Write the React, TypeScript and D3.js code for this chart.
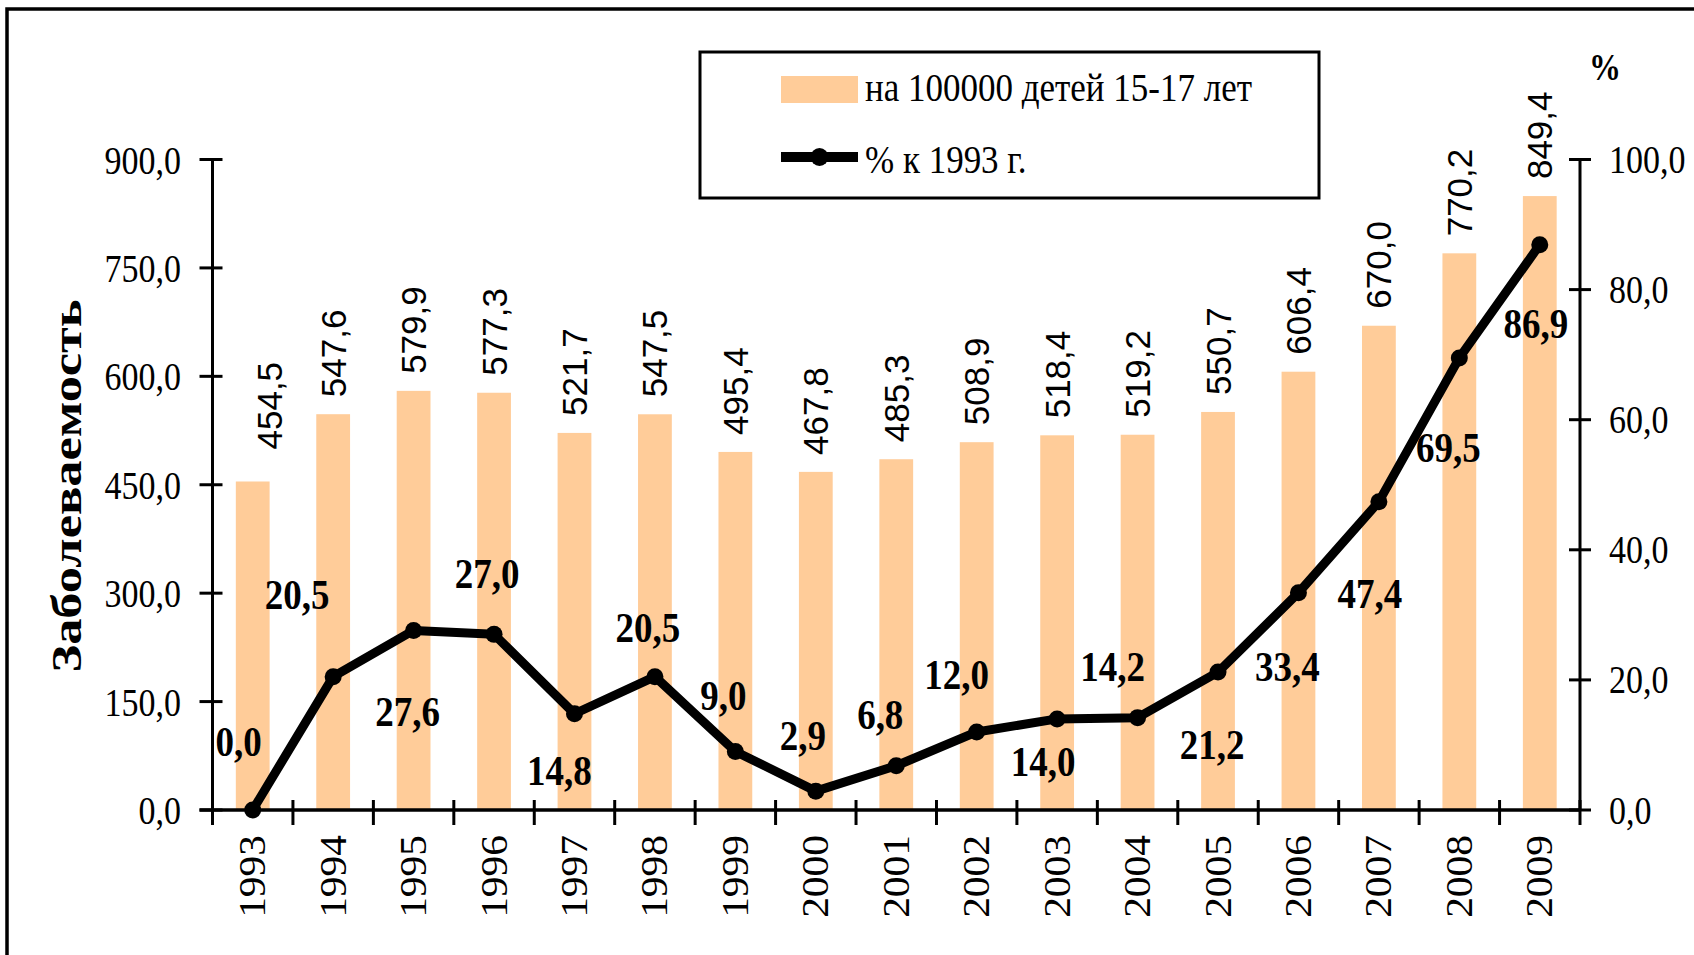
import * as d3 from "d3";

const years = [
  "1993", "1994", "1995", "1996", "1997", "1998", "1999", "2000", "2001",
  "2002", "2003", "2004", "2005", "2006", "2007", "2008", "2009",
];
const ratePer100k = [
  454.5, 547.6, 579.9, 577.3, 521.7, 547.5, 495.4, 467.8, 485.3, 508.9, 518.4,
  519.2, 550.7, 606.4, 670.0, 770.2, 849.4,
];
const pctTo1993 = [
  0.0, 20.5, 27.6, 27.0, 14.8, 20.5, 9.0, 2.9, 6.8, 12.0, 14.0, 14.2, 21.2,
  33.4, 47.4, 69.5, 86.9,
];
const leftTicks = [0, 150, 300, 450, 600, 750, 900];
const rightTicks = [0, 20, 40, 60, 80, 100];
const barLegend = "на 100000 детей 15-17 лет";
const lineLegend = "% к 1993 г.";
const yTitle = "Заболеваемость";
const rightUnit = "%";

// where each % label sits relative to its point (as placed by hand in the original)
const pctLabelShift: [number, number][] = [
  [-14, -69], [-36, -82], [-6, 81], [-7, -61], [-15, 57], [-7, -49],
  [-12, -56], [-13, -56], [-16, -51], [-20, -57], [-14, 43], [-25, -51],
  [-6, 72], [-11, 74], [-9, 92], [-11, 90], [-4, 79],
];

const SERIF = "'Liberation Serif', 'Times New Roman', serif";
const SANS = "'Liberation Sans', Arial, sans-serif";
const BAR = "#FFCC99";
const SY = 1.17; // the original picture is a little stretched vertically

const fmt = (v: number) => d3.format(".1f")(v).replace(".", ",");

export default function App() {
  const width = 1694;
  const height = 955;
  const left = 212.5;
  const right = 1580;
  const top = 159.5;
  const bottom = 810;

  const x = d3
    .scaleBand<string>()
    .domain(years)
    .range([left, right])
    .paddingInner(0.58)
    .paddingOuter(0.29);
  const yL = d3.scaleLinear().domain([0, 900]).range([bottom, top]);
  const yR = d3.scaleLinear().domain([0, 100]).range([bottom, top]);
  const cx = (i: number) => (x(years[i]) ?? 0) + x.bandwidth() / 2;
  const step = x.step();

  const lineGen = d3
    .line<number>()
    .x((_, i) => cx(i))
    .y((d) => yR(d));

  return (
    <svg
      width={width}
      height={height}
      viewBox={`0 0 ${width} ${height}`}
      style={{ position: "absolute", left: 0, top: 0, background: "#fff" }}
    >
      <rect x={0} y={0} width={width} height={height} fill="#fff" />
      {/* outer frame, cut off at right and bottom */}
      <rect x={7} y={9} width={2000} height={2000} fill="none" stroke="#000" strokeWidth={3.5} />

      {/* bars */}
      {ratePer100k.map((v, i) => (
        <rect
          key={years[i]}
          x={x(years[i])}
          y={yL(v)}
          width={x.bandwidth()}
          height={bottom - yL(v)}
          fill={BAR}
        />
      ))}

      {/* bar values */}
      {ratePer100k.map((v, i) => {
        const dx = i === 0 ? 17 : 0;
        const gap = i === 0 ? 32 : 17;
        return (
          <text
            key={"bv" + i}
            transform={`translate(${cx(i) + 12.5 + dx},${yL(v) - gap}) rotate(-90)`}
            fontFamily={SANS}
            fontSize={35}
            textAnchor="start"
          >
            {fmt(v)}
          </text>
        );
      })}

      {/* left axis */}
      <line x1={left} y1={top} x2={left} y2={bottom} stroke="#000" strokeWidth={3} />
      {leftTicks.map((t) => (
        <g key={"lt" + t}>
          <line x1={left - 13} x2={left + 10} y1={yL(t)} y2={yL(t)} stroke="#000" strokeWidth={3} />
          <text
            transform={`translate(181,${yL(t) + 14}) scale(1,${SY})`}
            fontFamily={SERIF}
            fontSize={34}
            textAnchor="end"
          >
            {fmt(t)}
          </text>
        </g>
      ))}

      {/* right axis */}
      <line x1={right} y1={top} x2={right} y2={bottom} stroke="#000" strokeWidth={3} />
      {rightTicks.map((t) => (
        <g key={"rt" + t}>
          <line x1={right - 11} x2={right + 11} y1={yR(t)} y2={yR(t)} stroke="#000" strokeWidth={3} />
          <text
            transform={`translate(1609,${yR(t) + 13.5}) scale(1,${SY})`}
            fontFamily={SERIF}
            fontSize={34}
            textAnchor="start"
          >
            {fmt(t)}
          </text>
        </g>
      ))}
      <text
        transform={`translate(1605,80) scale(1,${SY})`}
        fontFamily={SERIF}
        fontWeight="bold"
        fontSize={32}
        textAnchor="middle"
      >
        {rightUnit}
      </text>

      {/* category axis */}
      <line x1={left - 13} y1={bottom} x2={right} y2={bottom} stroke="#000" strokeWidth={3.5} />
      {d3.range(years.length + 1).map((k) => (
        <line
          key={"xt" + k}
          x1={left + k * step}
          x2={left + k * step}
          y1={bottom - 10}
          y2={bottom + 15}
          stroke="#000"
          strokeWidth={3}
        />
      ))}
      {years.map((yr, i) => (
        <text
          key={"yr" + yr}
          transform={`translate(${cx(i) + 12.5},835) rotate(-90) scale(1.12,1)`}
          fontFamily={SERIF}
          fontSize={37}
          textAnchor="end"
        >
          {yr}
        </text>
      ))}

      {/* y title */}
      <text
        transform="translate(81,486) rotate(-90)"
        fontFamily={SERIF}
        fontWeight="bold"
        fontSize={42}
        textAnchor="middle"
        textLength={373}
        lengthAdjust="spacingAndGlyphs"
      >
        {yTitle}
      </text>

      {/* % line */}
      <path
        d={lineGen(pctTo1993) ?? ""}
        fill="none"
        stroke="#000"
        strokeWidth={9}
        strokeLinejoin="round"
      />
      {pctTo1993.map((v, i) => (
        <circle key={"pt" + i} cx={cx(i)} cy={yR(v)} r={8.5} fill="#000" />
      ))}
      {pctTo1993.map((v, i) => (
        <text
          key={"pl" + i}
          transform={`translate(${cx(i) + pctLabelShift[i][0]},${yR(v) + pctLabelShift[i][1] + 14.5}) scale(1,1.16)`}
          fontFamily={SERIF}
          fontWeight="bold"
          fontSize={37}
          textAnchor="middle"
        >
          {fmt(v)}
        </text>
      ))}

      {/* legend */}
      <rect x={700} y={52} width={619} height={146} fill="#fff" stroke="#000" strokeWidth={3} />
      <rect x={781} y={76} width={77} height={27} fill={BAR} />
      <text
        transform={`translate(865,101) scale(1,${SY})`}
        fontFamily={SERIF}
        fontSize={35}
      >
        {barLegend}
      </text>
      <line x1={781} x2={858} y1={157} y2={157} stroke="#000" strokeWidth={10} />
      <circle cx={819.5} cy={157} r={9} fill="#000" />
      <text
        transform={`translate(865,173) scale(1,${SY})`}
        fontFamily={SERIF}
        fontSize={35}
      >
        {lineLegend}
      </text>
    </svg>
  );
}
